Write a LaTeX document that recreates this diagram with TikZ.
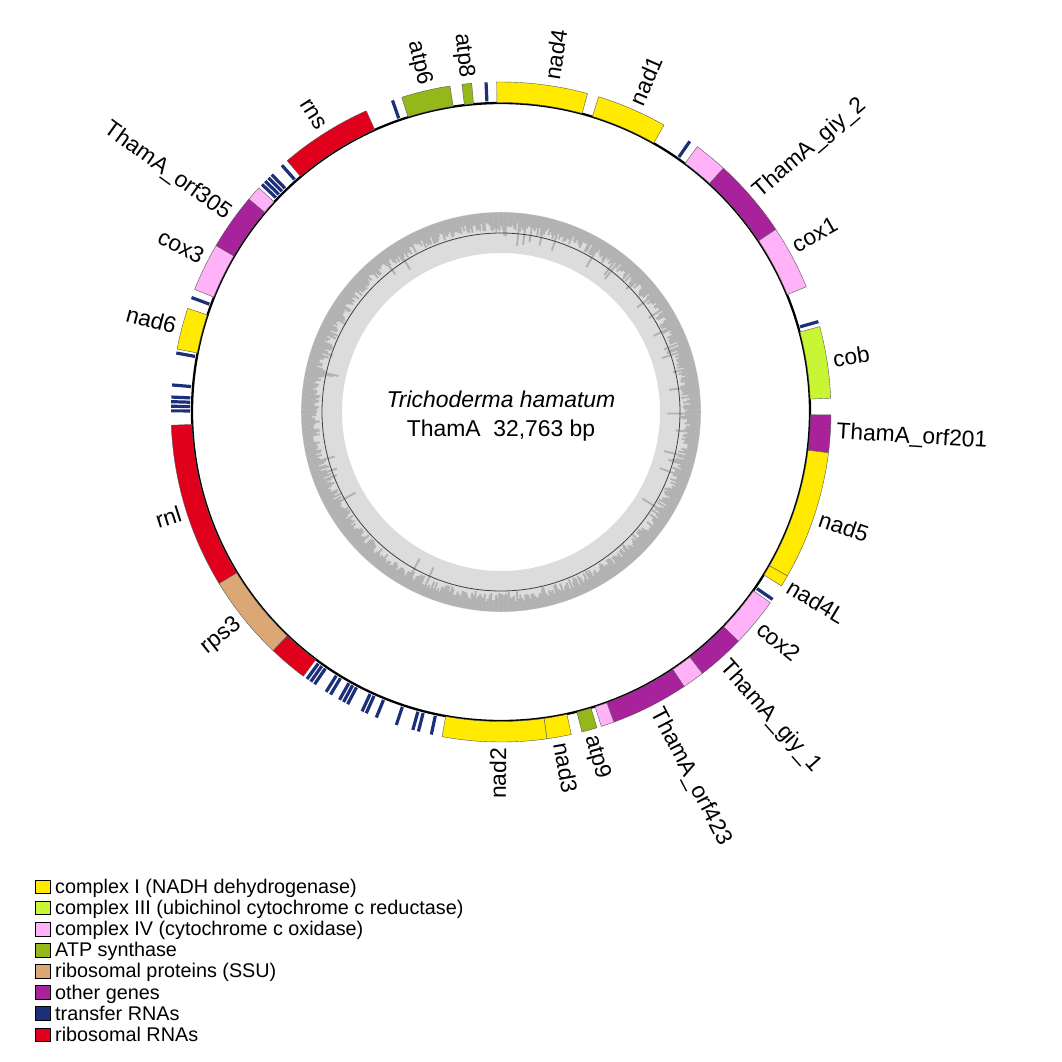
\documentclass[tikz,border=0pt]{standalone}
\usepackage{fontspec}
\setmainfont{Liberation Sans}
\definecolor{cI}{HTML}{FFEA00}
\definecolor{cIII}{HTML}{C8F534}
\definecolor{cIV}{HTML}{FFB2F7}
\definecolor{catp}{HTML}{94B81A}
\definecolor{crps}{HTML}{DBA875}
\definecolor{coth}{HTML}{A8229B}
\definecolor{ctrna}{HTML}{1C2F7A}
\definecolor{crrna}{HTML}{E0001B}
\definecolor{gclight}{HTML}{DCDCDC}
\definecolor{gcdark}{HTML}{B2B2B2}
\tikzset{
  lbl/.style={font=\fontsize{22.8}{26}\selectfont, inner sep=0pt},
  legtext/.style={font=\fontsize{19.8}{23}\selectfont, inner sep=0pt, anchor=base west},
  legbox/.style={draw=black, line width=0.8pt, minimum width=15pt, minimum height=13.5pt, inner sep=0pt},
  genebox/.style={draw=black!65, line width=0.4pt},
  trnabar/.style={draw=ctrna, line width=3.2pt}
}
\newcommand\gblock[3]{\filldraw[genebox, fill=#3] (90-#1:309.5) arc[start angle=90-#1, end angle=90-#2, radius=309.5] -- (90-#2:330) arc[start angle=90-#2, end angle=90-#1, radius=330] -- cycle;}
\newcommand\trna[1]{\draw[trnabar] (90-#1:311) -- (90-#1:330);}
\newcommand\rlab[3]{\node[lbl, anchor=west, rotate=90-#2] (#1) at (90-#2:336) {#3};}
\newcommand\llab[3]{\node[lbl, anchor=east, rotate=270-#2] (#1) at (90-#2:336) {#3};}
\begin{document}
\begin{tikzpicture}[x=1pt,y=1pt]
\useasboundingbox (0,0) rectangle (1062,-1062);
\coordinate (O) at (501,-412);
\begin{scope}[shift={(O)}]
  % GC content ring
  \fill[gclight, even odd rule] (0,0) circle[radius=200] (0,0) circle[radius=159];
  \pgfmathsetseed{11}
  \foreach \a in {0,0.5,...,359.5}{
    \pgfmathsetmacro\h{rnd<0.05 ? 165+14*rnd : 180+10*rnd}
    \draw[gcdark, line width=1.9pt] (\a:199.6) -- (\a:\h);
  }
  \draw[black!75, line width=0.8pt] (0,0) circle[radius=179];
  % main circle
  \draw[black, line width=2.3pt] (0,0) circle[radius=309];
  % genes
  \gblock{342.5}{351.1}{catp}
  \gblock{353.2}{354.9}{catp}
  \gblock{-0.75}{15.2}{cI}
  \gblock{17.2}{29.6}{cI}
  \gblock{36.5}{42.4}{cIV}
  \gblock{42.4}{56.4}{coth}
  \gblock{56.4}{67.7}{cIV}
  \gblock{75.0}{87.6}{cIII}
  \gblock{90.5}{97.1}{coth}
  \gblock{97.1}{119.8}{cI}
  \gblock{119.8}{121.8}{cI}
  \gblock{125.3}{134.0}{cIV}
  \gblock{134.0}{142.4}{coth}
  \gblock{142.4}{146.3}{cIV}
  \gblock{146.3}{160.0}{coth}
  \gblock{160.0}{162.3}{cIV}
  \gblock{163.1}{165.8}{catp}
  \gblock{167.7}{172.0}{cI}
  \gblock{172.0}{190.3}{cI}
  \gblock{216.8}{223.7}{crrna}
  \gblock{223.7}{238.7}{crps}
  \gblock{238.7}{267.7}{crrna}
  \gblock{281.0}{288.3}{cI}
  \gblock{291.8}{300.3}{cIV}
  \gblock{300.3}{310.2}{coth}
  \gblock{310.2}{312.8}{cIV}
  \gblock{319.6}{335.9}{crrna}
  % tRNAs
  \foreach \t in {340.8,357.4,34.9,74.1,124.6,192.2,194.5,195.5,198.5,202.2,204.1,204.9,
                  207.7,208.5,209.3,211.1,212.0,214.4,215.2,216.0,
                  270.2,271.0,271.8,272.6,274.7,280.3,290.3,313.6,314.4,315.2,316.0,318.4}{\trna{\t}}
  % labels
  \llab{latp6}{346.8}{atp6}
  \llab{latp8}{354.0}{atp8}
  \rlab{lnad4}{8.7}{nad4}
  \rlab{lnad1}{23.6}{nad1}
  \rlab{lgiy2}{49.5}{ThamA\_giy\_2}
  \rlab{lcox1}{60.5}{cox1}
  \rlab{lcob}{81.0}{cob}
  \rlab{lorf201}{93.5}{ThamA\_orf201}
  \rlab{lnad5}{108.5}{nad5}
  \rlab{lnad4L}{121.0}{nad4L}
  \rlab{lcox2}{129.6}{cox2}
  \rlab{lgiy1}{138.5}{ThamA\_giy\_1}
  \rlab{lorf423}{152.5}{ThamA\_orf423}
  \rlab{latp9}{164.5}{atp9}
  \rlab{lnad3}{169.7}{nad3}
  \llab{lnad2}{180.5}{nad2}
  \llab{lrps3}{231.3}{rps3}
  \llab{lrnl}{252.5}{rnl}
  \llab{lnad6}{284.8}{nad6}
  \llab{lcox3}{297.4}{cox3}
  \llab{lorf305}{305.8}{ThamA\_orf305}
  \llab{lrns}{327.7}{rns}
\end{scope}
% centre title
\node[font=\fontsize{22.9}{27}\selectfont\itshape, inner sep=0pt, anchor=base] (species) at (501,-407.7) {Trichoderma hamatum};
\node[font=\fontsize{22.9}{27}\selectfont, inner sep=0pt, anchor=base] (size) at (501,-436.5) {ThamA\ \ 32,763 bp};
% legend
\foreach \c/\t [count=\i from 0] in {cI/complex I (NADH dehydrogenase),
  cIII/complex III (ubichinol cytochrome c reductase),
  cIV/complex IV (cytochrome c oxidase),
  catp/ATP synthase,
  crps/ribosomal proteins (SSU),
  coth/other genes,
  ctrna/transfer RNAs,
  crrna/ribosomal RNAs}{
  \pgfmathsetmacro\yc{-887-21.1*\i}
  \node[legbox, fill=\c] (box\i) at (42.5,\yc) {};
  \node[legtext] (leg\i) at (55,\yc-6.5) {\t};
}
\end{tikzpicture}
\end{document}
